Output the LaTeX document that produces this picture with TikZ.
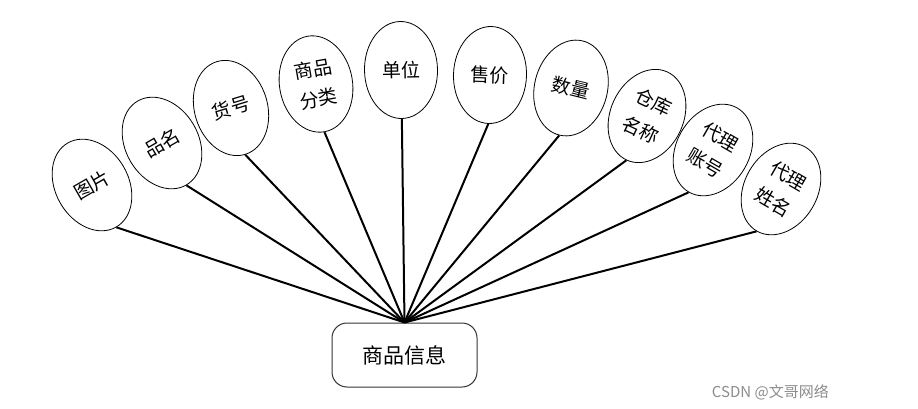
\documentclass[tikz,border=0pt]{standalone}
\usepackage{fontspec}
\setmainfont{Noto Sans CJK SC}
\usetikzlibrary{shapes.geometric}
\tikzset{
  attr/.style={ellipse, draw=black, line width=0.8pt, minimum width=73pt, minimum height=97pt,
    inner sep=0pt, align=center, font=\fontsize{19}{30}\selectfont},
  entity/.style={draw=black!80, line width=1pt, rounded corners=15pt, minimum width=145pt,
    minimum height=64pt, font=\fontsize{21}{24}\selectfont},
  link/.style={line width=2pt, black},
}
\begin{document}
\begin{tikzpicture}[x=1pt,y=-1pt]
\useasboundingbox (0,0) rectangle (918,409);
\node[entity] (c) at (404.5,355) {商品信息};
\node[attr, rotate=30]  (a1) at (92,185)  {图片};
\node[attr, rotate=30]  (a2) at (162,143) {品名};
\node[attr, rotate=17]  (a3) at (231,108) {货号};
\node[attr, rotate=10]  (a4) at (316,84)  {商品\\分类};
\node[attr, rotate=1]   (a5) at (401,70)  {单位};
\node[attr, rotate=-2]  (a6) at (490,75)  {售价};
\node[attr, rotate=-14] (a7) at (571,88)  {数量};
\node[attr, rotate=-25] (a8) at (647,116) {仓库\\名称};
\node[attr, rotate=-30] (a9) at (713,150) {代理\\账号};
\node[attr, rotate=-30] (a10) at (781,189) {代理\\姓名};
\foreach \i in {1,...,10} {\draw[link] (a\i.south) -- (c.north);}
\node[anchor=base east, text=black!45, font=\fontsize{15}{17}\selectfont, inner sep=0pt] (wm) at (829,397) {CSDN @文哥网络};
\end{tikzpicture}
\end{document}
